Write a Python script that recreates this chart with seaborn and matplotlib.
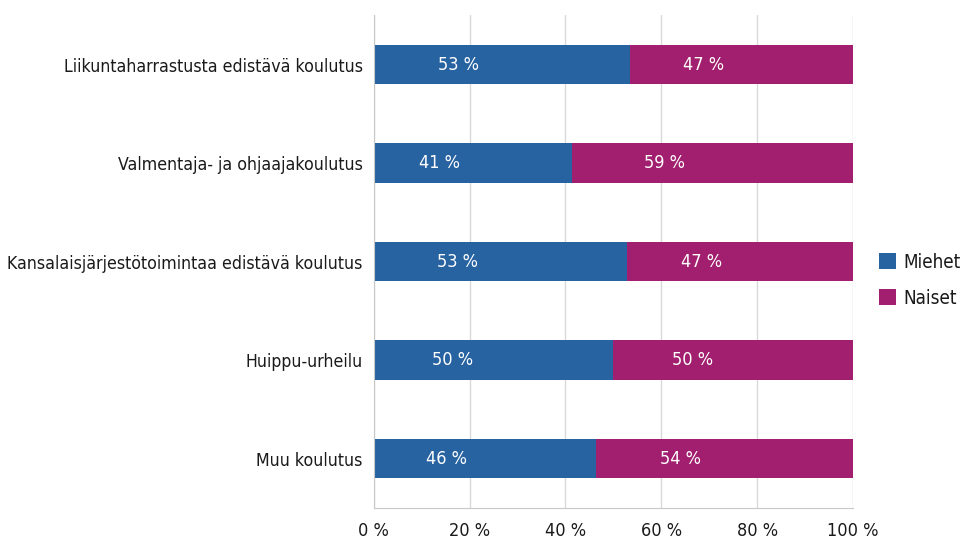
import matplotlib.pyplot as plt
import seaborn as sns
import pandas as pd

categories = ["Liikuntaharrastusta edistävä koulutus",
              "Valmentaja- ja ohjaajakoulutus",
              "Kansalaisjärjestötoimintaa edistävä koulutus",
              "Huippu-urheilu",
              "Muu koulutus"]
miehet = [53.4, 41.4, 52.8, 49.9, 46.3]
naiset = [46.6, 58.6, 47.2, 50.1, 53.7]
xticks = [0, 20, 40, 60, 80, 100]

blue = "#2762a1"
magenta = "#a11f6e"

df = pd.DataFrame({"cat": categories, "Miehet": miehet, "Naiset": naiset})
df["total"] = df["Miehet"] + df["Naiset"]

sns.set_style("white")
# condensed face, closest to the original narrow font
plt.rcParams["font.family"] = ["DejaVu Sans"]
plt.rcParams["font.stretch"] = "condensed"
plt.rcParams["text.color"] = "#1a1a1a"
plt.rcParams["xtick.labelcolor"] = "#1a1a1a"
plt.rcParams["ytick.labelcolor"] = "#1a1a1a"

fig = plt.figure(figsize=(9.63, 5.45), dpi=100)
ax = fig.add_axes([0.388, 0.068, 0.498, 0.904])

sns.barplot(data=df, y="cat", x="total", color=magenta, orient="h", width=0.4,
            ax=ax, label="Naiset", linewidth=0, saturation=1)
sns.barplot(data=df, y="cat", x="Miehet", color=blue, orient="h", width=0.4,
            ax=ax, label="Miehet", linewidth=0, saturation=1)

for i, (m, n) in enumerate(zip(miehet, naiset)):
    ax.text(m * 0.33, i, f"{round(m)} %", color="white", fontsize=13,
            ha="center", va="center")
    ax.text(m + n * 0.33, i, f"{round(n)} %", color="white", fontsize=13,
            ha="center", va="center")

ax.set_xlim(0, 100)
ax.set_ylim(4.5, -0.5)
ax.set_xticks(xticks)
ax.set_xticklabels([f"{t} %" for t in xticks], fontsize=13)
ax.set_yticks(range(len(categories)))
ax.set_yticklabels(categories, fontsize=12.7)
ax.set_yticks([i - 0.5 for i in range(len(categories) + 1)], minor=True)
ax.tick_params(axis="y", which="major", length=0, pad=8)
ax.tick_params(axis="y", which="minor", length=5, color="#c8c8c8", direction="out")
ax.tick_params(axis="x", length=5, color="#c8c8c8", direction="out", pad=5)
ax.set_xlabel("")
ax.set_ylabel("")
ax.set_axisbelow(True)
ax.xaxis.grid(True, color="#d9d9d9", linewidth=1)
for s in ["top", "right"]:
    ax.spines[s].set_visible(False)
for s in ["left", "bottom"]:
    ax.spines[s].set_color("#c8c8c8")

handles, labels = ax.get_legend_handles_labels()
order = [labels.index("Miehet"), labels.index("Naiset")]
ax.legend([handles[k] for k in order], [labels[k] for k in order],
          loc="center left", bbox_to_anchor=(0.913, 0.486), bbox_transform=fig.transFigure,
          frameon=False, fontsize=13.5, handlelength=0.9, handleheight=0.9,
          labelspacing=0.9, handletextpad=0.4, borderpad=0, borderaxespad=0)

plt.savefig("out.png", dpi=100)
